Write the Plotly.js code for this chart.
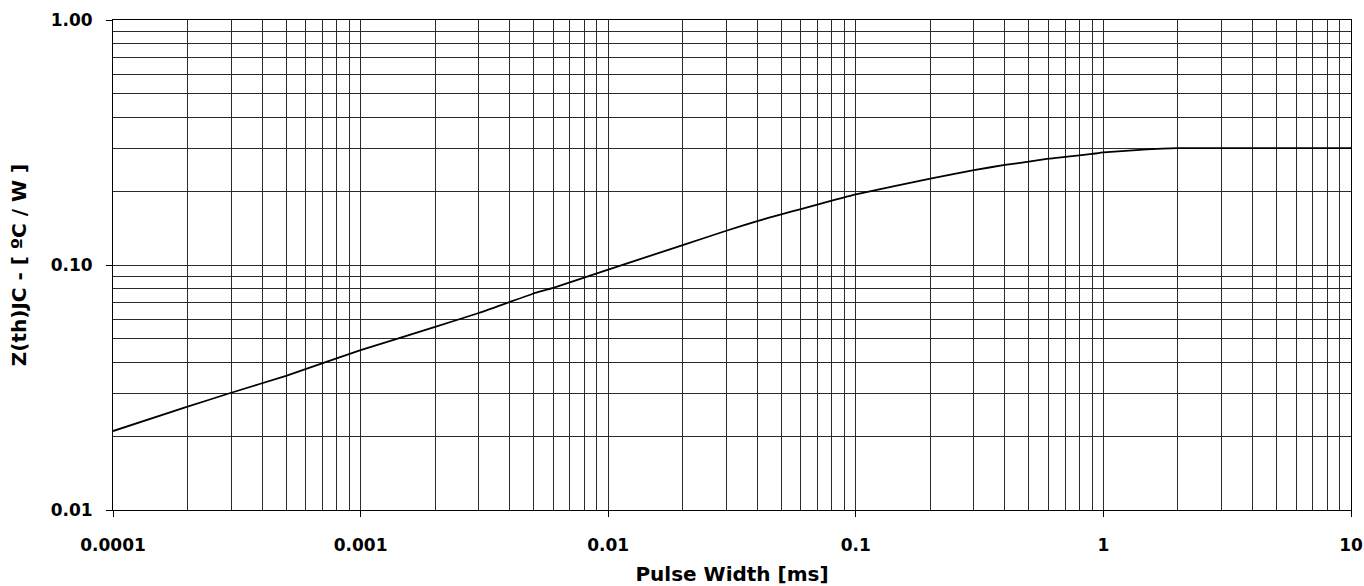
<!DOCTYPE html>
<html>
<head>
<meta charset="utf-8">
<script src="https://cdn.plot.ly/plotly-3.0.1.min.js"></script>
<style>
  html, body { margin: 0; padding: 0; background: #fff; }
  #chart { width: 1364px; height: 586px; }
</style>
</head>
<body>
<div id="chart"></div>
<script>
// Pulse width [ms]
const pulseWidth = [0.0001, 0.0002, 0.0003, 0.0005, 0.001, 0.002, 0.003, 0.005, 0.006,
  0.01, 0.02, 0.03, 0.04, 0.05, 0.06, 0.08, 0.1, 0.2, 0.3, 0.4, 0.5, 0.6, 0.7, 0.8, 0.9,
  1, 1.5, 2, 3, 5, 10];
// Z(th)JC [ºC/W]
const zthJC = [0.021, 0.0264, 0.0301, 0.0353, 0.0449, 0.0559, 0.0637, 0.0765, 0.0806,
  0.0958, 0.1205, 0.138, 0.151, 0.161, 0.169, 0.183, 0.194, 0.225, 0.244, 0.256, 0.264, 0.2715, 0.276, 0.280, 0.284,
  0.288, 0.2965, 0.300, 0.300, 0.300, 0.300];

const xTitle = "Pulse Width [ms]";
const yTitle = "Z(th)JC - [ ºC / W ]";

const font = "DejaVu Sans, Arial, sans-serif";
const gridColor = "#2a2a2a";

const trace = {
  x: pulseWidth,
  y: zthJC,
  type: "scatter",
  mode: "lines",
  line: { color: "#000", width: 1.8, shape: "spline", smoothing: 0.4 },
  hoverinfo: "x+y"
};

const layout = {
  width: 1364,
  height: 586,
  margin: { l: 113, r: 13, t: 19.5, b: 76 },
  paper_bgcolor: "#fff",
  plot_bgcolor: "#fff",
  showlegend: false,
  font: { family: font, color: "#000" },
  xaxis: {
    type: "log",
    range: [-4, 1],
    tickmode: "linear",
    tick0: 0,
    dtick: 1,
    tickformat: "~g",
    ticks: "outside",
    ticklen: 6,
    tickcolor: "#000",
    ticklabelstandoff: 14,
    tickfont: { family: font, size: 17, color: "#000", weight: "bold" },
    showgrid: true,
    gridcolor: gridColor,
    gridwidth: 1,
    minor: { dtick: "D1", showgrid: true, gridcolor: gridColor, gridwidth: 1, ticks: "" },
    showline: true,
    linecolor: "#000",
    linewidth: 1,
    mirror: true,
    zeroline: false,
    title: { text: xTitle, font: { family: font, size: 20, color: "#000", weight: "bold" }, standoff: 12 }
  },
  yaxis: {
    type: "log",
    range: [-2, 0],
    tickmode: "linear",
    tick0: 0,
    dtick: 1,
    tickformat: ".2f",
    ticks: "outside",
    ticklen: 6,
    tickcolor: "#000",
    ticklabelstandoff: 10,
    tickfont: { family: font, size: 17, color: "#000", weight: "bold" },
    showgrid: true,
    gridcolor: gridColor,
    gridwidth: 1,
    minor: { dtick: "D1", showgrid: true, gridcolor: gridColor, gridwidth: 1, ticks: "" },
    showline: true,
    linecolor: "#000",
    linewidth: 1,
    mirror: true,
    zeroline: false,
    title: { text: yTitle, font: { family: font, size: 20, color: "#000", weight: "bold" }, standoff: 18 }
  }
};

Plotly.newPlot("chart", [trace], layout, { displayModeBar: false, staticPlot: true });
</script>
</body>
</html>
